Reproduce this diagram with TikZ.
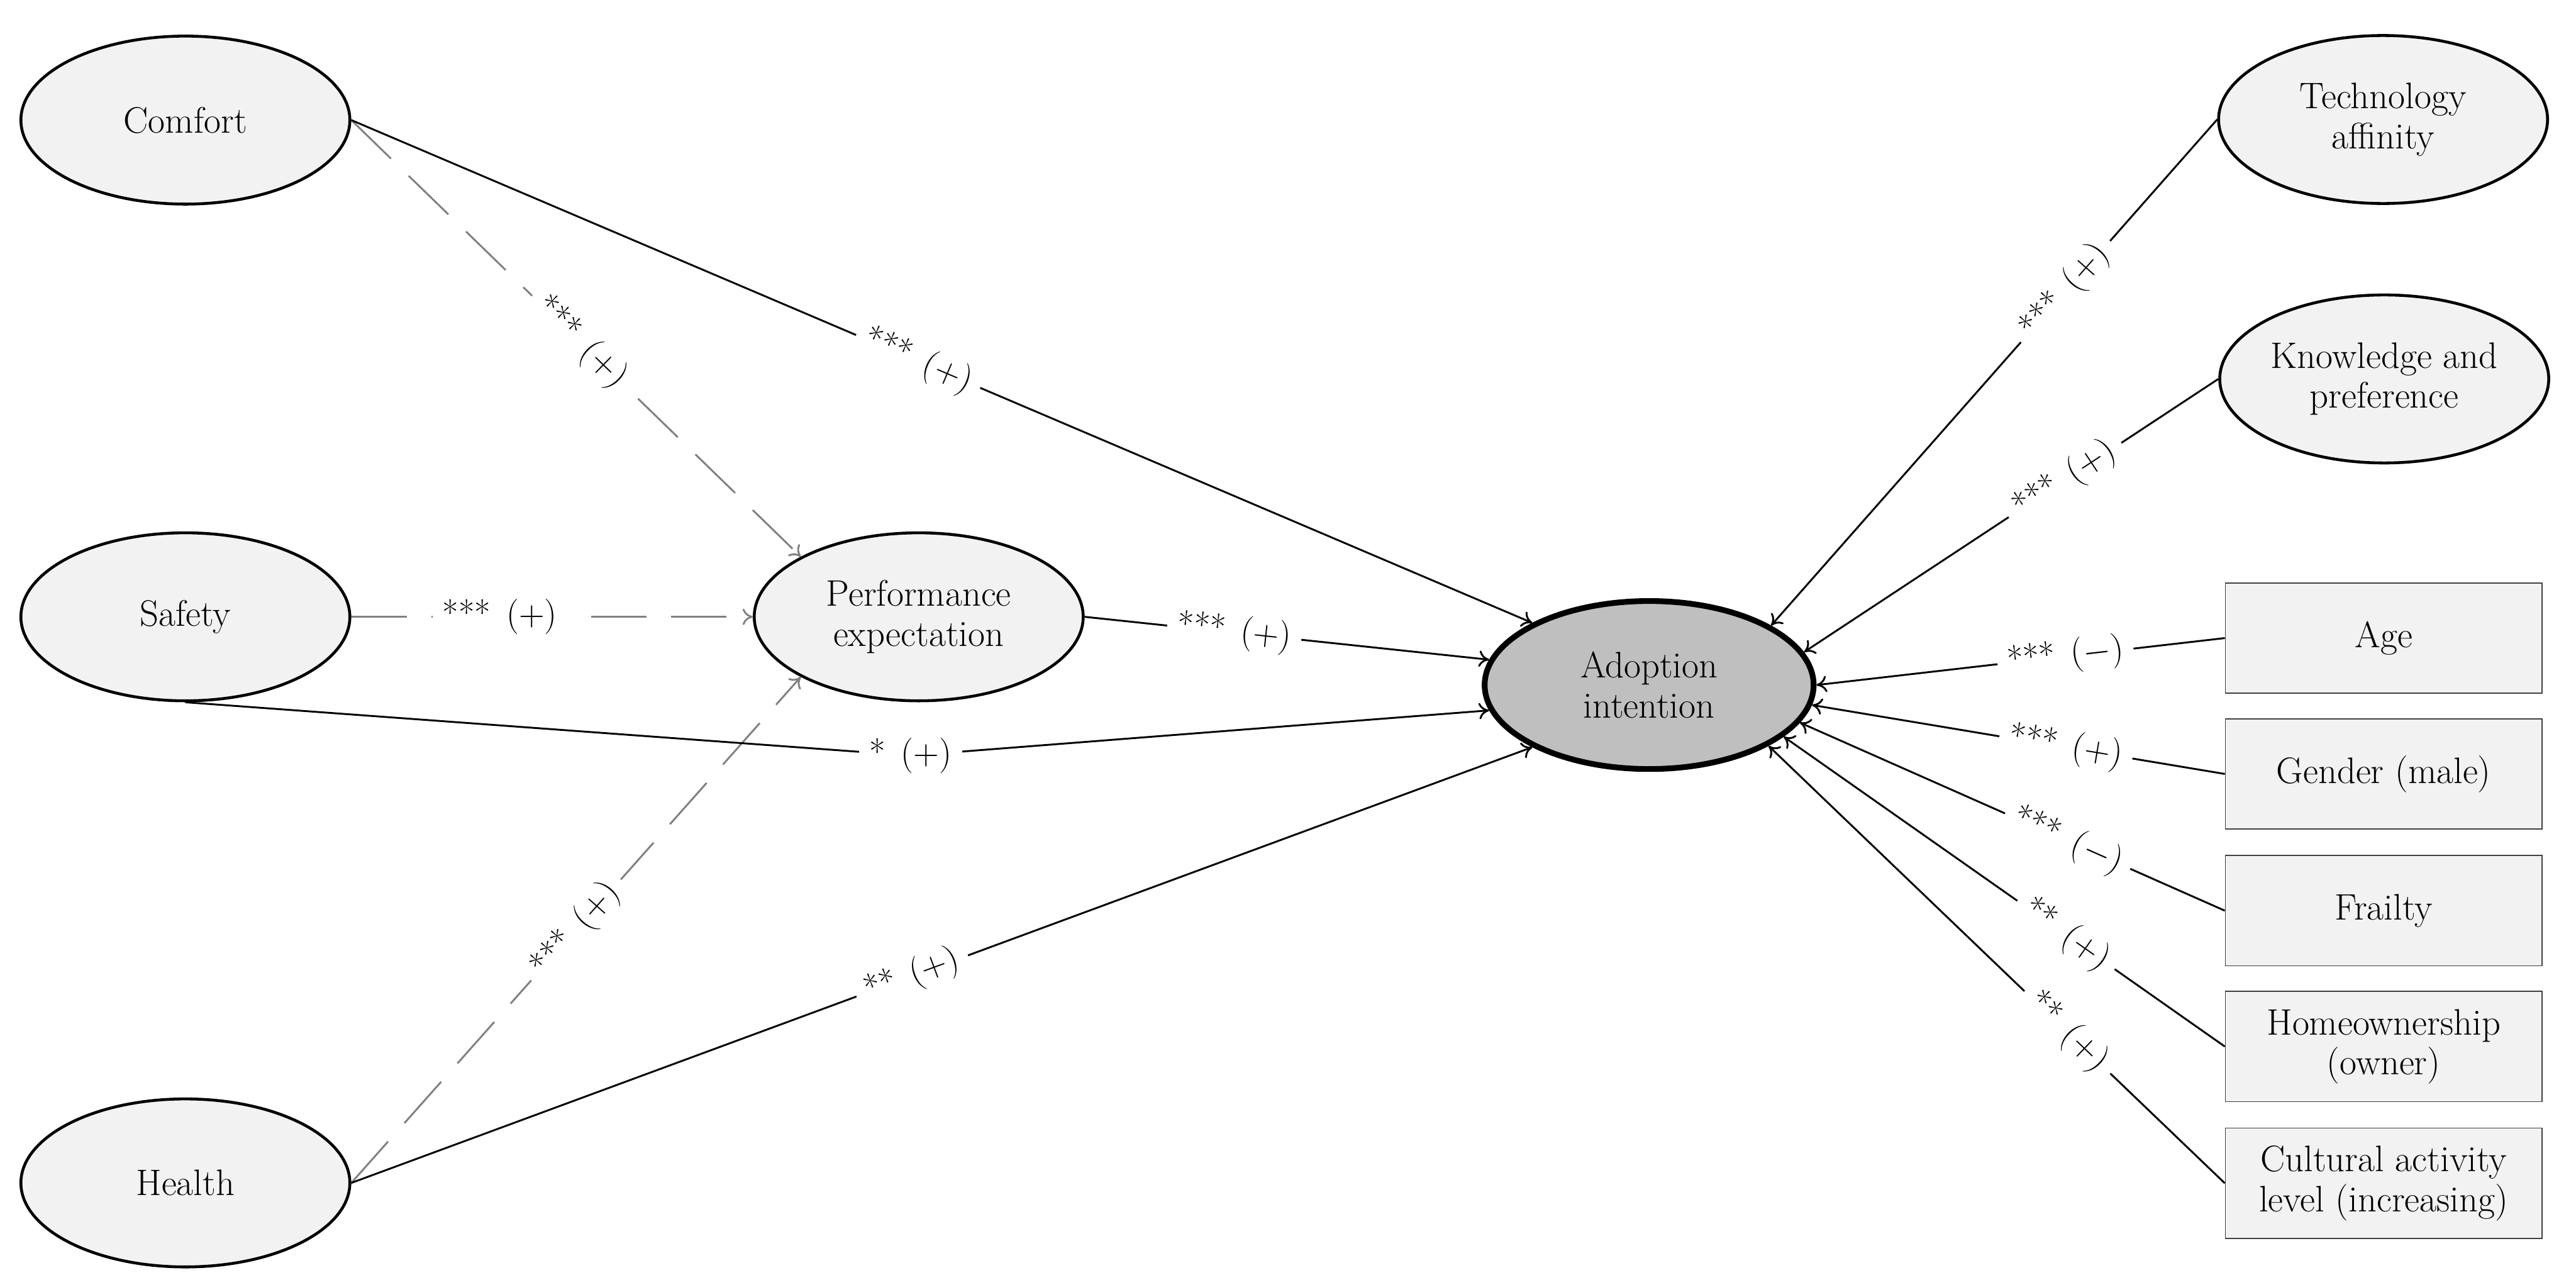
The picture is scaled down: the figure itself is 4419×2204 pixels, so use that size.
\documentclass[tikz,border=0pt]{standalone}
\usetikzlibrary{shapes.geometric,arrows.meta}
\definecolor{ellfill}{HTML}{F2F2F2}
\definecolor{aifill}{HTML}{BFBFBF}
\definecolor{dgray}{HTML}{808080}
\newcommand\mynodefont{\fontsize{18}{19.5}\selectfont}
\newcommand\mylblfont{\fontsize{17}{19}\selectfont}
\begin{document}
\begin{tikzpicture}[x=0.01cm,y=-0.01cm,
  lat/.style={ellipse, draw, line width=1.4pt, fill=ellfill, minimum width=5.64cm, minimum height=2.88cm, inner sep=0pt, align=center, font=\mynodefont},
  ctrl/.style={rectangle, draw=black!75, line width=0.5pt, fill=ellfill, minimum width=5.43cm, minimum height=1.89cm, inner sep=0pt, align=center, font=\mynodefont},
  conn/.style={line width=0.9pt, -{To[length=5pt,width=8pt]}},
  dconn/.style={conn, draw=dgray, dash pattern=on 27pt off 12pt},
  lbl/.style={fill=white, text=black, inner sep=5pt, font=\mylblfont, sloped},
  lblflat/.style={fill=white, text=black, inner sep=5pt, font=\mylblfont}
]
\useasboundingbox (0,0) rectangle (4419,2204);
% latent variables
\node[lat] (Comfort) at (318,206) {Comfort};
\node[lat] (Safety) at (318,1058) {Safety};
\node[lat] (Health) at (318,2029) {Health};
\node[lat] (PE) at (1576,1058) {Performance\\expectation};
\node[lat, fill=aifill, line width=2.8pt] (AI) at (2829,1175) {Adoption\\intention};
\node[lat] (TA) at (4088,205) {Technology\\affinity};
\node[lat] (KP) at (4090,650) {Knowledge and\\preference};
% control variables
\node[ctrl] (Age) at (4089,1094.5) {Age};
\node[ctrl] (Gender) at (4089,1327.5) {Gender (male)};
\node[ctrl] (Frailty) at (4089,1562) {Frailty};
\node[ctrl] (Home) at (4089,1795) {Homeownership\\(owner)};
\node[ctrl] (Cult) at (4089,2029.5) {Cultural activity\\level (increasing)};
% dashed paths to performance expectation
\draw[dconn] (Comfort.east) -- node[lbl,pos=0.51]{***\hspace{0.45em}$(+)$} (PE.153);
\draw[dconn] (Safety.east) -- node[lbl,pos=0.37]{***\hspace{0.45em}$(+)$} (PE.west);
\draw[dconn] (Health.east) -- node[lbl,pos=0.50]{***\hspace{0.45em}$(+)$} (PE.207);
% solid paths to adoption intention
\draw[conn] (Comfort.east) -- node[lbl,pos=0.48]{***\hspace{0.45em}$(+)$} (AI.152);
\draw[conn] (PE.east) -- node[lbl,pos=0.37]{***\hspace{0.45em}$(+)$} (AI.171);
\coordinate (sa) at (1562,1296);
\draw[conn] (Safety.south) -- (sa) -- (AI.189);
\node[lblflat] (salbl) at (sa) {*\hspace{0.45em}$(+)$};
\draw[conn] (Health.east) -- node[lbl,pos=0.475]{**\hspace{0.45em}$(+)$} (AI.208);
% right side
\draw[conn] (TA.west) -- node[lbl,pos=0.34]{***\hspace{0.45em}$(+)$} (AI.26);
\draw[conn] (KP.west) -- node[lbl,pos=0.37]{***\hspace{0.45em}$(+)$} (AI.12);
\draw[conn] (Age.west) -- node[lbl,pos=0.39]{***\hspace{0.45em}$(-)$} (AI.east);
\draw[conn] (Gender.west) -- node[lbl,pos=0.385]{***\hspace{0.45em}$(+)$} (AI.-7);
\draw[conn] (Frailty.west) -- node[lbl,pos=0.37]{***\hspace{0.45em}$(-)$} (AI.-14);
\draw[conn] (Home.west) -- node[lbl,pos=0.36]{**\hspace{0.45em}$(+)$} (AI.-21);
\draw[conn] (Cult.west) -- node[lbl,pos=0.345]{**\hspace{0.45em}$(+)$} (AI.-27);
\end{tikzpicture}
\end{document}
